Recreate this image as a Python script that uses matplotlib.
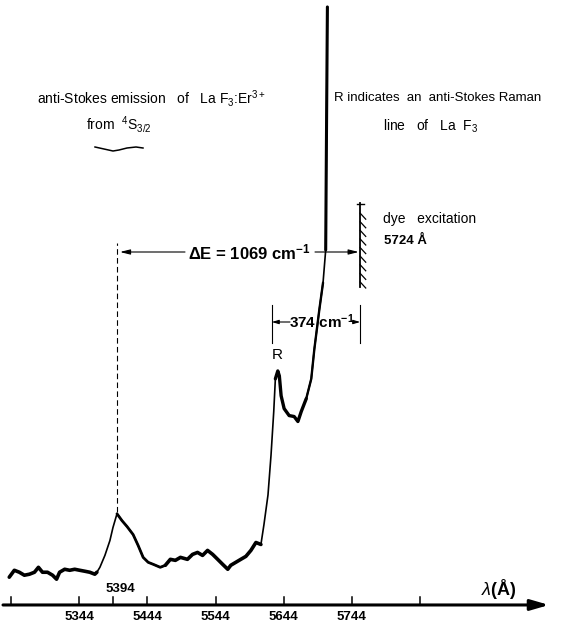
import numpy as np
import matplotlib
matplotlib.use("Agg")
import matplotlib.pyplot as plt

plt.rcParams["font.family"] = ["Liberation Sans", "DejaVu Sans"]
plt.rcParams["mathtext.fontset"] = "custom"
plt.rcParams["mathtext.rm"] = "Liberation Sans"
plt.rcParams["mathtext.it"] = "Liberation Sans:italic"
plt.rcParams["mathtext.bf"] = "Liberation Sans:bold"

# Recorded spectrum: wavelength (Å) and signal (arbitrary units)
wavelength = [
    5247.8, 5254.7, 5261.5, 5268.3, 5275.2, 5282.0, 5287.4, 5292.9, 5299.7, 5306.6,
    5312.0, 5316.1, 5323.0, 5329.8, 5336.6, 5343.5, 5350.3, 5357.1, 5363.9, 5366.7,
    5370.8, 5377.6, 5384.4, 5388.5, 5394.0, 5400.8, 5407.7, 5415.9, 5422.7, 5429.5,
    5436.3, 5443.2, 5452.7, 5459.6, 5466.4, 5473.2, 5480.1, 5489.6, 5496.5, 5503.3,
    5510.1, 5516.9, 5523.8, 5530.6, 5537.4, 5544.3, 5548.4, 5555.2, 5562.0, 5568.9,
    5575.7, 5582.5, 5589.3, 5593.4, 5598.9, 5603.0, 5606.7, 5608.9, 5612.2, 5614.3,
    5616.7, 5620.8, 5627.6, 5634.4, 5639.5, 5644.0, 5650.8, 5657.6, 5661.8, 5668.6,
    5673.6, 5677.2, 5678.1, 5679.5,
]
intensity = [
    4.67, 5.83, 5.50, 5.00, 5.17, 5.50, 6.33, 5.50, 5.50, 5.00,
    4.33, 5.50, 6.00, 5.83, 6.00, 5.83, 5.67, 5.50, 5.17, 5.50,
    6.33, 8.33, 10.83, 13.00, 15.33, 14.17, 13.17, 11.83, 10.00, 8.00,
    7.17, 6.83, 6.33, 6.67, 7.67, 7.50, 8.00, 7.67, 8.50, 8.83,
    8.33, 9.17, 8.50, 7.67, 6.83, 6.00, 6.67, 7.17, 7.67, 8.17,
    9.17, 10.50, 10.17, 13.50, 18.50, 25.17, 32.50, 38.00, 39.33, 38.50,
    35.17, 33.00, 31.83, 31.67, 30.83, 32.50, 34.67, 38.00, 43.00, 49.67,
    54.17, 59.67, 76.33, 100.50,
]

# wavelength ruler printed under the trace
tick_wavelengths = [5244, 5344, 5394, 5444, 5544, 5644, 5744, 5844]
tick_labels = ["", "5344", "", "5444", "5544", "5644", "5744", ""]
peak_wavelength = 5394
excitation_wavelength = 5724
delta_e = 1069        # cm^-1
raman_shift = 374     # cm^-1

# Raman line position from the excitation wavelength and the shift
raman_wavelength = 1e8 / (1e8 / excitation_wavelength + raman_shift)

W, H = 563, 628
fig = plt.figure(figsize=(W / 100, H / 100), dpi=100)

YMIN, YMAX = -3.87, 101.67

# trace and annotations
ax = fig.add_axes([0, 0, 1, 1])
XMIN, XMAX = 5235.25, 5999.2
ax.set_xlim(XMIN, XMAX)
ax.set_ylim(YMIN, YMAX)
ax.axis("off")

# drawn ruler (its own printed scale)
axr = fig.add_axes([0, 0, 1, 1])
axr.patch.set_alpha(0)
RMIN, RMAX = 5227.9, 6053.7
axr.set_xlim(RMIN, RMAX)
axr.set_ylim(YMIN, YMAX)
axr.axis("off")


def X(px):
    return XMIN + px / W * (XMAX - XMIN)


def XR(px):
    return RMIN + px / W * (RMAX - RMIN)


def Y(py):
    return YMAX - py / H * (YMAX - YMIN)


# spectrum trace: thin pen stroke, heavier where the recording is noisy
ax.plot(wavelength, intensity, color="black", lw=1.2, solid_joinstyle="round",
        solid_capstyle="round")
for i0, i1, lw in [(0, 20, 2.6), (24, 34, 2.0), (33, 53, 2.6), (57, 67, 2.4),
                   (66, 71, 1.7), (71, 74, 2.2)]:
    ax.plot(wavelength[i0:i1], intensity[i0:i1], color="black", lw=lw,
            solid_joinstyle="round", solid_capstyle="round")

# wavelength axis with arrow
axr.annotate("", xy=(XR(549), 0), xytext=(XR(3), 0),
             arrowprops=dict(arrowstyle="-|>,head_length=1.1,head_width=0.32",
                             lw=2.2, color="black", shrinkA=0, shrinkB=0))
for w, lbl in zip(tick_wavelengths, tick_labels):
    axr.plot([w, w], [0, 1.4], color="black", lw=1.1)
    if lbl:
        axr.text(w, Y(617), lbl, ha="center", va="center", fontsize=9.5,
                 fontweight="bold")
axr.text(peak_wavelength + 10, Y(589), str(peak_wavelength), ha="center",
         va="center", fontsize=9.5, fontweight="bold")
axr.text(XR(499), Y(589), r"$\lambda$(Å)", ha="center", va="center",
         fontsize=13, fontweight="bold")

# dashed marker at the emission peak
ax.plot([peak_wavelength, peak_wavelength], [Y(512), Y(243)], color="black",
        lw=0.8, dashes=(5, 3))

# Delta E arrows between emission peak and excitation
arrow_y = Y(252)
ax.annotate("", xy=(peak_wavelength + 4, arrow_y), xytext=(X(185), arrow_y),
            arrowprops=dict(arrowstyle="-|>,head_length=0.6,head_width=0.15",
                            lw=0.8, color="black", shrinkA=0, shrinkB=0))
ax.annotate("", xy=(excitation_wavelength - 2, arrow_y), xytext=(X(315), arrow_y),
            arrowprops=dict(arrowstyle="-|>,head_length=0.6,head_width=0.15",
                            lw=0.8, color="black", shrinkA=0, shrinkB=0))
ax.text(X(249), arrow_y, r"ΔE = %d cm$^{\mathbf{-1}}$" % delta_e, ha="center",
        va="center", fontsize=12, fontweight="bold")

# hatched excitation line
ax.plot([excitation_wavelength, excitation_wavelength], [Y(287), Y(203)],
        color="black", lw=1.3)
for py in np.arange(282, 205, -8.6):
    ax.plot([excitation_wavelength, excitation_wavelength + 7.5],
            [Y(py), Y(py + 6)], color="black", lw=0.9)
ax.plot([excitation_wavelength - 5, excitation_wavelength + 5], [Y(204), Y(204)],
        color="black", lw=1.0)
ax.text(X(383), Y(219), "dye   excitation", ha="left", va="center", fontsize=10)
ax.text(X(384), Y(241), "%d Å" % excitation_wavelength, ha="left", va="center",
        fontsize=9.5, fontweight="bold")

# Raman shift bracket
bracket_y = Y(322)
for w in (raman_wavelength, excitation_wavelength):
    ax.plot([w, w], [Y(343), Y(305)], color="black", lw=0.8)
ax.annotate("", xy=(raman_wavelength, bracket_y), xytext=(X(290), bracket_y),
            arrowprops=dict(arrowstyle="-|>,head_length=0.4,head_width=0.12",
                            lw=0.8, color="black", shrinkA=0, shrinkB=0))
ax.annotate("", xy=(excitation_wavelength, bracket_y), xytext=(X(354), bracket_y),
            arrowprops=dict(arrowstyle="-|>,head_length=0.4,head_width=0.12",
                            lw=0.8, color="black", shrinkA=0, shrinkB=0))
ax.text(X(322), bracket_y, r"%d cm$^{\mathbf{-1}}$" % raman_shift, ha="center",
        va="center", fontsize=11, fontweight="bold")
ax.text(X(277), Y(355), "R", ha="center", va="center", fontsize=11)

# explanatory notes
ax.text(X(37), Y(98), r"anti-Stokes emission   of   La F$_3$:Er$^{3+}$", ha="left",
        va="center", fontsize=10)
ax.text(X(86), Y(124), r"from  $^4$S$_{3/2}$", ha="left", va="center", fontsize=10)
brace_px = [(95, 147), (104, 149), (113, 151), (119, 150), (127, 148), (136, 147),
            (143, 148)]
ax.plot([X(p[0]) for p in brace_px], [Y(p[1]) for p in brace_px], color="black",
        lw=1.1)
ax.text(X(334), Y(98), "R indicates  an  anti-Stokes Raman", ha="left",
        va="center", fontsize=9.5)
ax.text(X(383), Y(126), r"line   of   La  F$_3$", ha="left", va="center",
        fontsize=10)

fig.savefig("out.png", dpi=100)
